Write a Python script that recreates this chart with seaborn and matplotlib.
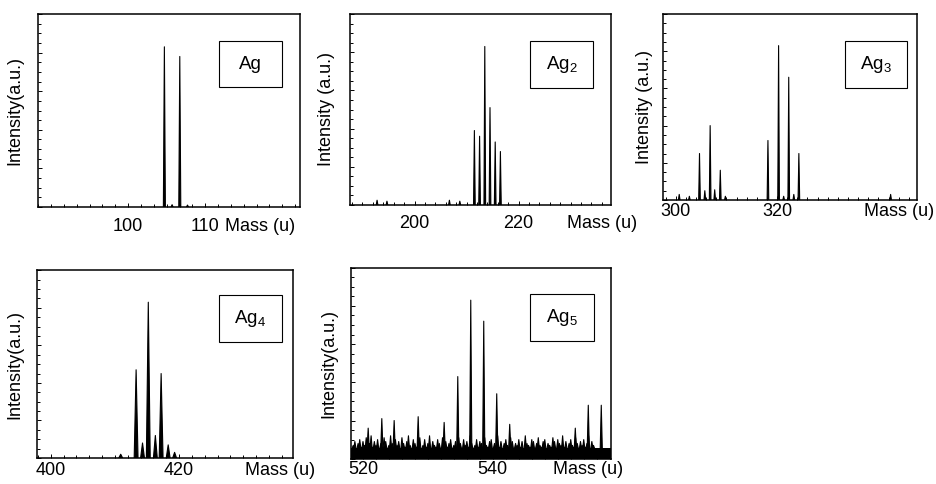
import numpy as np
import pandas as pd
import matplotlib
matplotlib.use("Agg")
import matplotlib.pyplot as plt
import seaborn as sns
from matplotlib.ticker import MultipleLocator, FixedLocator, NullFormatter
from matplotlib.patches import Rectangle

sns.set_style("ticks")
plt.rcParams["font.family"] = ["Liberation Sans", "DejaVu Sans"]
plt.rcParams["mathtext.fontset"] = "custom"
plt.rcParams["mathtext.rm"] = "Liberation Sans"
plt.rcParams["mathtext.it"] = "Liberation Sans:italic"
plt.rcParams["mathtext.default"] = "regular"
plt.rcParams["text.color"] = "black"
plt.rcParams["axes.labelcolor"] = "black"
plt.rcParams["xtick.color"] = "black"
plt.rcParams["ytick.color"] = "black"
plt.rcParams["xtick.labelcolor"] = "black"

# ---------------- data (intensity normalised 0..1) -------------
ag1_mass = [104.7, 105.7, 106.7, 107.7]
ag1_int = [0.83, 0.012, 0.78, 0.01]

ag2_mass = [192.8, 194.7, 206.7, 208.7, 211.5, 212.5, 213.5, 214.5, 215.5, 216.5]
ag2_int = [0.025, 0.02, 0.025, 0.02, 0.39, 0.36, 0.83, 0.51, 0.33, 0.28]

ag3_mass = [300.7, 302.7, 304.7, 305.75, 306.8, 307.7, 308.8, 309.8,
            318.2, 320.3, 321.3, 322.3, 323.3, 324.3, 342.4]
ag3_int = [0.03, 0.02, 0.25, 0.05, 0.40, 0.055, 0.16, 0.02,
           0.32, 0.83, 0.02, 0.66, 0.03, 0.25, 0.03]

ag4_mass = [410.9, 413.3, 414.3, 415.2, 416.3, 417.2, 418.3, 419.3]
ag4_int = [0.02, 0.47, 0.08, 0.83, 0.12, 0.45, 0.07, 0.03]

ag5_mass = [520.8, 522.9, 524.8, 528.5, 532.5, 534.6, 536.6, 538.6,
            540.6, 542.6, 552.7, 554.7, 556.7]
ag5_int = [0.16, 0.21, 0.20, 0.22, 0.19, 0.43, 0.83, 0.72,
           0.34, 0.18, 0.16, 0.28, 0.28]

# Ag5 noise spikes, every 0.25 u starting at 518.5 u
ag5_noise_start = 518.5
ag5_noise_step = 0.25
ag5_noise = [0.07, 0.09, 0.05, 0.08, 0.10, 0.06, 0.09, 0.07, 0.11, 0.05, 0.08, 0.12, 0.06, 0.09, 0.07, 0.10, 0.05, 0.08, 0.06, 0.11,
             0.09, 0.05, 0.07, 0.12, 0.08, 0.06, 0.10, 0.07, 0.09, 0.05, 0.11, 0.08, 0.06, 0.09, 0.12, 0.07, 0.05, 0.10, 0.08, 0.06,
             0.09, 0.11, 0.05, 0.07, 0.10, 0.06, 0.08, 0.12, 0.05, 0.09, 0.07, 0.06, 0.10, 0.08, 0.05, 0.11, 0.07, 0.09, 0.06, 0.08,
             0.10, 0.05, 0.07, 0.09, 0.06, 0.11, 0.08, 0.05, 0.10, 0.07, 0.09, 0.06, 0.12, 0.08, 0.05, 0.07, 0.10, 0.06, 0.09, 0.08,
             0.05, 0.11, 0.07, 0.06, 0.09, 0.10, 0.05, 0.08, 0.07, 0.12, 0.06, 0.09, 0.05, 0.08, 0.10, 0.07, 0.06, 0.11, 0.09, 0.05,
             0.08, 0.07, 0.10, 0.06, 0.09, 0.05, 0.12, 0.08, 0.07, 0.06, 0.10, 0.09, 0.05, 0.08, 0.11, 0.07, 0.06, 0.09, 0.10, 0.05,
             0.08, 0.07, 0.06, 0.11, 0.09, 0.05, 0.10, 0.08, 0.07, 0.12, 0.06, 0.09, 0.05, 0.08, 0.10, 0.07, 0.06, 0.11, 0.08, 0.05,
             0.09, 0.07, 0.10, 0.06, 0.08, 0.12, 0.05, 0.09, 0.07]
ag5_noise_floor = 0.055

labels = ["Ag", "Ag$_2$", "Ag$_3$", "Ag$_4$", "Ag$_5$"]
ylabels = ["Intensity(a.u.)", "Intensity (a.u.)", "Intensity (a.u.)",
           "Intensity(a.u.)", "Intensity(a.u.)"]
xtick_values = [[100, 110], [200, 220], [300, 320], [400, 420], [520, 540]]

# ---------------- layout / style --------------------------------------------------------
W, H = 936, 484
panels = [
    dict(box=(38, 14, 300, 207), xlim=(88.3, 122.3), minor=10 / 6, hw=0.13, pad=8.0,
         mass_x=0.714, ylpad=7.0, lbl=(0.69, 0.62, 0.24, 0.24)),
    dict(box=(350, 14, 611, 205), xlim=(187.6, 237.75), minor=2, hw=0.16, pad=7.5,
         mass_x=0.83, ylpad=7.0, lbl=(0.69, 0.61, 0.24, 0.25)),
    dict(box=(663, 14, 917, 200), xlim=(297.5, 347.6), minor=2, hw=0.16, pad=2.0,
         mass_x=0.79, ylpad=3.6, lbl=(0.715, 0.60, 0.245, 0.255)),
    dict(box=(37.3, 270.3, 293.3, 458), xlim=(397.9, 437.8), minor=2, hw=0.3, pad=3.0,
         mass_x=0.81, ylpad=6.5, lbl=(0.71, 0.618, 0.245, 0.249)),
    dict(box=(351.3, 267.7, 611, 458.7), xlim=(518.2, 558.2), minor=2, hw=0.16, pad=1.8,
         mass_x=0.777, ylpad=6.2, lbl=(0.69, 0.616, 0.245, 0.248)),
]

series = [(ag1_mass, ag1_int), (ag2_mass, ag2_int), (ag3_mass, ag3_int),
          (ag4_mass, ag4_int), (ag5_mass, ag5_int)]

fig = plt.figure(figsize=(W / 100, H / 100), dpi=100)
FS = 13


def peak_frame(mass, inten, hw, floor):
    rows = []
    for i, (m, h) in enumerate(zip(mass, inten)):
        rows += [(i, m - hw, floor), (i, m, h), (i, m + hw, floor)]
    return pd.DataFrame(rows, columns=["peak", "mass", "intensity"])


for k, p in enumerate(panels):
    x0, y0, x1, y1 = p["box"]
    ax = fig.add_axes([x0 / W, (H - y1) / H, (x1 - x0) / W, (y1 - y0) / H])
    mass, inten = series[k]
    floor = 0.0
    if k == 4:
        floor = ag5_noise_floor
        nmass = [ag5_noise_start + i * ag5_noise_step for i in range(len(ag5_noise))]
        mass = list(nmass) + list(mass)
        inten = list(ag5_noise) + list(inten)
        ax.axhspan(0, floor, color="black", lw=0)
    df = peak_frame(mass, inten, p["hw"], floor)
    for _, g in df.groupby("peak"):
        ax.fill(g["mass"], g["intensity"], color="black", lw=0)
    sns.lineplot(data=df, x="mass", y="intensity", units="peak", estimator=None,
                 sort=False, color="black", lw=0.8, ax=ax, legend=False)

    ax.set_xlim(*p["xlim"])
    ax.set_ylim(0, 1)
    ax.xaxis.set_major_locator(FixedLocator(xtick_values[k]))
    ax.set_xticklabels([str(v) for v in xtick_values[k]])
    ax.xaxis.set_minor_locator(MultipleLocator(p["minor"]))
    ax.yaxis.set_major_locator(MultipleLocator(0.2))
    ax.yaxis.set_minor_locator(MultipleLocator(0.05))
    ax.yaxis.set_major_formatter(NullFormatter())
    ax.tick_params(axis="both", which="both", direction="in", top=False, right=False,
                   color="black", width=0.7)
    ax.tick_params(axis="x", which="major", length=3, pad=p["pad"], labelsize=FS,
                   labelcolor="black")
    ax.tick_params(axis="x", which="minor", length=2)
    ax.tick_params(axis="y", which="major", length=3)
    ax.tick_params(axis="y", which="minor", length=2)
    for s in ax.spines.values():
        s.set_visible(True)
        s.set_linewidth(1.1)
        s.set_color("black")
    ax.set_xlabel("")
    ax.set_ylabel(ylabels[k], fontsize=FS, labelpad=p["ylpad"], color="black")
    ax.annotate("Mass (u)", xy=(p["mass_x"], 0), xycoords="axes fraction",
                xytext=(0, -p["pad"]), textcoords="offset points",
                ha="left", va="top", fontsize=FS, color="black", annotation_clip=False)
    bx, by, bw, bh = p["lbl"]
    ax.add_patch(Rectangle((bx, by), bw, bh, transform=ax.transAxes, fill=False,
                           ec="black", lw=0.8))
    ax.text(bx + bw / 2, by + bh / 2, labels[k], transform=ax.transAxes,
            ha="center", va="center", fontsize=13.5, color="black")

fig.savefig("out.png", dpi=100)
